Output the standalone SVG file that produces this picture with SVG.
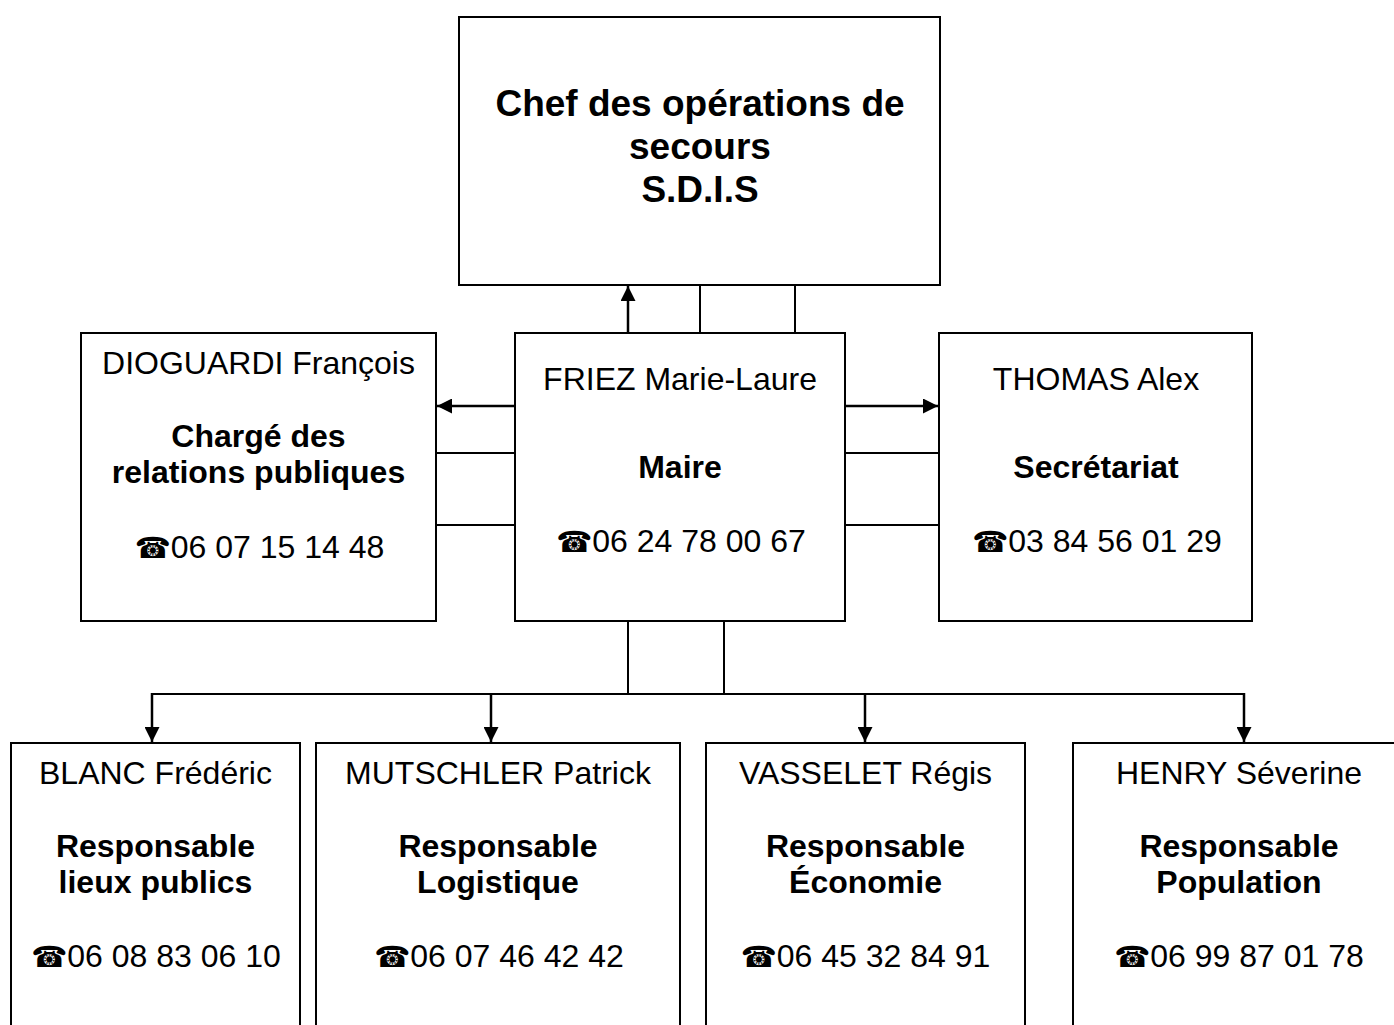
<svg xmlns="http://www.w3.org/2000/svg" width="1394" height="1025" viewBox="0 0 1394 1025">
<defs>
<style>
.box{fill:#fff;stroke:#000;stroke-width:2}
.ln{fill:none;stroke:#000;stroke-width:2}
.ar{fill:none;stroke:#000;stroke-width:2.5;marker-end:url(#ah)}
text{font-family:"Liberation Sans",Arial,sans-serif;font-size:32px;fill:#000;text-anchor:middle}
.b{font-weight:bold}
.t{font-size:37px;font-weight:bold}
.ph{font-family:"DejaVu Sans",sans-serif;font-size:29px}
</style>
<marker id="ah" viewBox="0 0 10 10" refX="10" refY="5" markerWidth="6.2" markerHeight="6" markerUnits="strokeWidth" orient="auto">
<path d="M0,0 L10,5 L0,10 Z" fill="#000"/>
</marker>
</defs>
<rect width="1394" height="1025" fill="#fff"/>
<g id="connectors">
<line class="ar" x1="628" y1="333" x2="628" y2="286"/>
<line class="ln" x1="700" y1="285" x2="700" y2="333"/>
<line class="ln" x1="795" y1="285" x2="795" y2="333"/>
<line class="ar" x1="515" y1="406" x2="437" y2="406"/>
<line class="ln" x1="436" y1="453" x2="515" y2="453"/>
<line class="ln" x1="436" y1="525" x2="515" y2="525"/>
<line class="ar" x1="845" y1="406" x2="938" y2="406"/>
<line class="ln" x1="845" y1="453" x2="939" y2="453"/>
<line class="ln" x1="845" y1="525" x2="939" y2="525"/>
<line class="ln" x1="628" y1="621" x2="628" y2="694"/>
<line class="ln" x1="724" y1="621" x2="724" y2="694"/>
<line class="ln" x1="152" y1="694" x2="1244" y2="694"/>
<line class="ar" x1="152" y1="693" x2="152" y2="742"/>
<line class="ar" x1="491" y1="693" x2="491" y2="742"/>
<line class="ar" x1="865" y1="693" x2="865" y2="742"/>
<line class="ar" x1="1244" y1="693" x2="1244" y2="742"/>
</g>
<g id="cos">
<rect class="box" x="459" y="17" width="481" height="268"/>
<text class="t" x="700" y="116">Chef des opérations de</text>
<text class="t" x="700" y="159">secours</text>
<text class="t" x="700" y="202">S.D.I.S</text>
</g>
<g id="dioguardi">
<rect class="box" x="81" y="333" width="355" height="288"/>
<text x="258.5" y="374">DIOGUARDI François</text>
<text class="b" x="258.5" y="447">Chargé des</text>
<text class="b" x="258.5" y="483">relations publiques</text>
<text x="259.5" y="558"><tspan class="ph">☎</tspan>06 07 15 14 48</text>
</g>
<g id="friez">
<rect class="box" x="515" y="333" width="330" height="288"/>
<text x="680" y="390">FRIEZ Marie-Laure</text>
<text class="b" x="680" y="478">Maire</text>
<text x="681" y="552"><tspan class="ph">☎</tspan>06 24 78 00 67</text>
</g>
<g id="thomas">
<rect class="box" x="939" y="333" width="313" height="288"/>
<text x="1096" y="390">THOMAS Alex</text>
<text class="b" x="1096" y="478">Secrétariat</text>
<text x="1097" y="552"><tspan class="ph">☎</tspan>03 84 56 01 29</text>
</g>
<g id="blanc">
<rect class="box" x="11" y="743" width="289" height="300"/>
<text x="155.5" y="784">BLANC Frédéric</text>
<text class="b" x="155.5" y="857">Responsable</text>
<text class="b" x="155.5" y="893">lieux publics</text>
<text x="156" y="967"><tspan class="ph">☎</tspan>06 08 83 06 10</text>
</g>
<g id="mutschler">
<rect class="box" x="316" y="743" width="364" height="300"/>
<text x="498" y="784">MUTSCHLER Patrick</text>
<text class="b" x="498" y="857">Responsable</text>
<text class="b" x="498" y="893">Logistique</text>
<text x="499" y="967"><tspan class="ph">☎</tspan>06 07 46 42 42</text>
</g>
<g id="vasselet">
<rect class="box" x="706" y="743" width="319" height="300"/>
<text x="865.5" y="784">VASSELET Régis</text>
<text class="b" x="865.5" y="857">Responsable</text>
<text class="b" x="865.5" y="893">Économie</text>
<text x="865.5" y="967"><tspan class="ph">☎</tspan>06 45 32 84 91</text>
</g>
<g id="henry">
<rect class="box" x="1073" y="743" width="332" height="300"/>
<text x="1239" y="784">HENRY Séverine</text>
<text class="b" x="1239" y="857">Responsable</text>
<text class="b" x="1239" y="893">Population</text>
<text x="1239" y="967"><tspan class="ph">☎</tspan>06 99 87 01 78</text>
</g>
</svg>
